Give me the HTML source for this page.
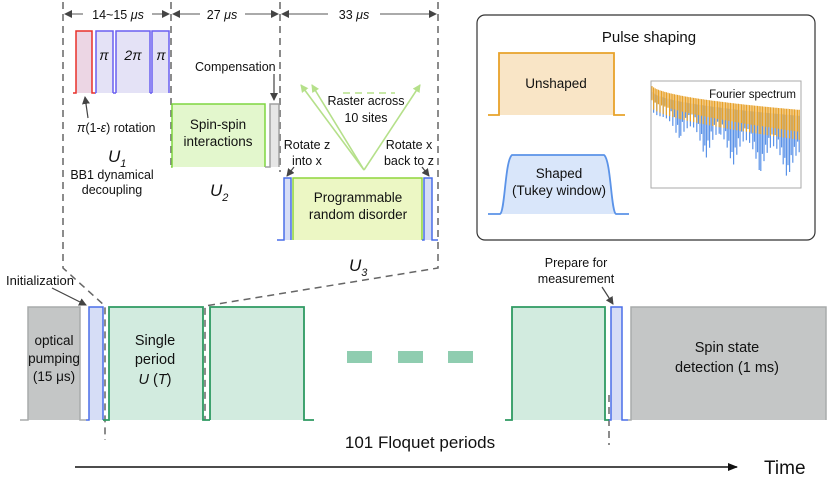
<!DOCTYPE html>
<html><head><meta charset="utf-8"><style>
html,body{margin:0;padding:0;background:#fff}
svg{display:block}
text{font-family:"Liberation Sans",sans-serif;fill:#111}
</style></head><body>
<svg id="s" width="831" height="485" viewBox="0 0 831 485" xmlns="http://www.w3.org/2000/svg">
<defs>
<marker id="ah" markerWidth="8" markerHeight="8" refX="7" refY="4" orient="auto" markerUnits="userSpaceOnUse"><path d="M0,0 L8,4 L0,8 z" fill="#444"/></marker>
<marker id="ahb" markerWidth="10" markerHeight="10" refX="9" refY="5" orient="auto" markerUnits="userSpaceOnUse"><path d="M0,1 L10,5 L0,9 z" fill="#111"/></marker>
<marker id="ahg" markerWidth="8" markerHeight="8" refX="7" refY="4" orient="auto" markerUnits="userSpaceOnUse"><path d="M0,0 L8,4 L0,8 z" fill="#b5e08a"/></marker>
</defs>
<!-- dashed guides -->
<g stroke="#666" stroke-width="1.5" stroke-dasharray="7,5" fill="none">
<path d="M63,2 L63,268 L105,306 L105,440"/>
<path d="M171,2 L171,168"/>
<path d="M280,2 L280,172"/>
<path d="M438,2 L438,268 L205,306 L205,420"/>
<path d="M609,395 L609,445"/>
</g>
<!-- top duration arrows -->
<g stroke="#555" stroke-width="1" marker-end="url(#ah)">
<line x1="83" y1="14" x2="65" y2="14"/><line x1="152" y1="14" x2="169" y2="14"/>
<line x1="200" y1="14" x2="173" y2="14"/><line x1="245" y1="14" x2="278" y2="14"/>
<line x1="328" y1="14" x2="282" y2="14"/><line x1="380" y1="14" x2="436" y2="14"/>
</g>
<text x="118" y="19" font-size="12.5" text-anchor="middle">14~15 <tspan font-style="italic">μs</tspan></text>
<text x="222" y="19" font-size="12.5" text-anchor="middle">27 <tspan font-style="italic">μs</tspan></text>
<text x="354" y="19" font-size="12.5" text-anchor="middle">33 <tspan font-style="italic">μs</tspan></text>
<!-- U1 pulses -->
<path d="M73,93 L76,93 L76,31 L92,31 L92,93 L95,93" fill="#ecd6e4" stroke="#e8302a" stroke-width="1.5"/>
<g fill="#e4e2f6" stroke="#6a5ff0" stroke-width="1.5">
<path d="M96,93 L96,31 L113,31 L113,93"/>
<path d="M116,93 L116,31 L150,31 L150,93"/>
<path d="M152,93 L152,31 L169,31 L169,93"/>
</g>
<path d="M95,93 L96,93 M113,93 L116,93 M150,93 L152,93" stroke="#6a5ff0" stroke-width="1.5"/>
<text x="104" y="60" font-size="14" font-style="italic" text-anchor="middle">π</text>
<text x="133" y="60" font-size="14" font-style="italic" text-anchor="middle">2π</text>
<text x="161" y="60" font-size="14" font-style="italic" text-anchor="middle">π</text>
<line x1="88" y1="118" x2="85" y2="97" stroke="#444" stroke-width="1.2" marker-end="url(#ah)"/>
<text x="77" y="132" font-size="12.5"><tspan font-style="italic">π</tspan>(1-<tspan font-style="italic">ε</tspan>) rotation</text>
<text x="108" y="162" font-size="17" font-style="italic">U<tspan font-size="11" dy="5">1</tspan></text>
<text x="112" y="179" font-size="12.5" text-anchor="middle">BB1 dynamical</text>
<text x="112" y="194" font-size="12.5" text-anchor="middle">decoupling</text>
<!-- U2 -->
<path d="M171,167 L172,167 L172,104 L265,104 L265,167" fill="#e3f7cd" stroke="#7fd640" stroke-width="1.5"/>
<path d="M265,167 L270,167 L270,104 L279,104 L279,167" fill="#e6e6e6" stroke="#a0a0a0" stroke-width="1.5"/>
<text x="218" y="129" font-size="13.5" text-anchor="middle">Spin-spin</text>
<text x="218" y="146" font-size="13.5" text-anchor="middle">interactions</text>
<text x="195" y="71" font-size="12.5">Compensation</text>
<line x1="274" y1="74" x2="274" y2="100" stroke="#444" stroke-width="1.2" marker-end="url(#ah)"/>
<text x="210" y="196" font-size="17" font-style="italic">U<tspan font-size="11" dy="5">2</tspan></text>
<!-- U3 -->
<path d="M277,240 L284,240 L284,178 L291,178 L291,240" fill="#d6ddf6" stroke="#4a6fe8" stroke-width="1.5"/>
<path d="M293,240 L293,178 L422,178 L422,240" fill="#ecf7c4" stroke="#8fd63c" stroke-width="1.5"/>
<path d="M422,240 L424,240 L424,178 L432,178 L432,240 L438,240" fill="#d6ddf6" stroke="#4a6fe8" stroke-width="1.5"/>
<text x="358" y="202" font-size="13.5" text-anchor="middle">Programmable</text>
<text x="358" y="219" font-size="13.5" text-anchor="middle">random disorder</text>
<g stroke="#b5e08a" stroke-width="1.6" marker-end="url(#ahg)">
<line x1="364" y1="170" x2="301" y2="85"/><line x1="364" y1="170" x2="312" y2="85"/><line x1="364" y1="170" x2="420" y2="85"/>
</g>
<line x1="343" y1="93" x2="395" y2="93" stroke="#b5e08a" stroke-width="1.6" stroke-dasharray="7,5"/>
<text x="366" y="105" font-size="12.5" text-anchor="middle">Raster across</text>
<text x="366" y="122" font-size="12.5" text-anchor="middle">10 sites</text>
<text x="307" y="149" font-size="12.5" text-anchor="middle">Rotate z</text>
<text x="307" y="165" font-size="12.5" text-anchor="middle">into x</text>
<text x="409" y="149" font-size="12.5" text-anchor="middle">Rotate x</text>
<text x="409" y="165" font-size="12.5" text-anchor="middle">back to z</text>
<line x1="294" y1="167" x2="287" y2="176" stroke="#444" stroke-width="1.2" marker-end="url(#ah)"/>
<line x1="422" y1="167" x2="429" y2="176" stroke="#444" stroke-width="1.2" marker-end="url(#ah)"/>
<text x="349" y="271" font-size="17" font-style="italic">U<tspan font-size="11" dy="5">3</tspan></text>
<!-- Pulse shaping box -->
<rect x="477" y="15" width="338" height="225" rx="8" fill="#fff" stroke="#333" stroke-width="1.2"/>
<text x="649" y="42" font-size="15" text-anchor="middle">Pulse shaping</text>
<path d="M488,115 L499,115 L499,53 L614,53 L614,115 L625,115" fill="#f9e5c6" stroke="#e8a22a" stroke-width="1.8"/>
<text x="556" y="88" font-size="13.5" text-anchor="middle">Unshaped</text>
<path d="M488,214 L500,214 C505,212 505,160 512,155 L604,155 C611,160 611,212 616,214 L629,214" fill="#d9e6fa" stroke="#5b93e8" stroke-width="1.8"/>
<text x="559" y="178" font-size="13.5" text-anchor="middle">Shaped</text>
<text x="559" y="195" font-size="13.5" text-anchor="middle">(Tukey window)</text>
<rect x="651" y="81" width="150" height="107" fill="#fff" stroke="#aaa" stroke-width="1"/>
<g id="spec"></g>
<text x="796" y="98" font-size="11.5" text-anchor="end">Fourier spectrum</text>
<!-- bottom sequence -->
<path d="M20,420 L28,420 L28,307 L80,307 L80,420 L86,420" fill="#c4c6c6" stroke="#a8abab" stroke-width="1.5"/>
<path d="M86,420 L89,420 L89,307 L103,307 L103,420" fill="#d6ddf6" stroke="#4a6fe8" stroke-width="1.5"/>
<g fill="#d2ebdf" stroke="#2e9a62" stroke-width="1.8">
<path d="M103,420 L109,420 L109,307 L203,307 L203,420 L210,420"/>
<path d="M210,420 L210,307 L304,307 L304,420 L314,420"/>
<path d="M505,420 L512,420 L512,307 L605,307 L605,420 L609,420"/>
</g>
<path d="M609,420 L611,420 L611,307 L622,307 L622,420 L628,420" fill="#d6ddf6" stroke="#4a6fe8" stroke-width="1.5"/>
<path d="M628,420 L631,420 L631,307 L826,307 L826,420" fill="#c4c6c6" stroke="#a8abab" stroke-width="1.5"/>
<g fill="#8fcdb0"><rect x="347" y="351" width="25" height="12"/><rect x="398" y="351" width="25" height="12"/><rect x="448" y="351" width="25" height="12"/></g>
<text x="54" y="345" font-size="13.5" text-anchor="middle">optical</text>
<text x="54" y="363" font-size="13.5" text-anchor="middle">pumping</text>
<text x="54" y="381" font-size="13.5" text-anchor="middle">(15 μs)</text>
<text x="155" y="345" font-size="14.5" text-anchor="middle">Single</text>
<text x="155" y="364" font-size="14.5" text-anchor="middle">period</text>
<text x="155" y="384" font-size="14.5" text-anchor="middle"><tspan font-style="italic">U</tspan> (<tspan font-style="italic">T</tspan>)</text>
<text x="727" y="352" font-size="14.5" text-anchor="middle">Spin state</text>
<text x="727" y="372" font-size="14.5" text-anchor="middle">detection (1 ms)</text>
<text x="6" y="285" font-size="13">Initialization</text>
<line x1="52" y1="288" x2="86" y2="305" stroke="#444" stroke-width="1.2" marker-end="url(#ah)"/>
<text x="576" y="267" font-size="12.5" text-anchor="middle">Prepare for</text>
<text x="576" y="283" font-size="12.5" text-anchor="middle">measurement</text>
<line x1="602" y1="287" x2="613" y2="304" stroke="#444" stroke-width="1.2" marker-end="url(#ah)"/>
<text x="420" y="448" font-size="17" text-anchor="middle">101 Floquet periods</text>
<line x1="75" y1="467" x2="737" y2="467" stroke="#111" stroke-width="1.5" marker-end="url(#ahb)"/>
<text x="764" y="474" font-size="19">Time</text>
</svg>
<script>
(function(){
var g=document.getElementById('spec'),ns='http://www.w3.org/2000/svg';
function mk(d,c,w){var p=document.createElementNS(ns,'path');p.setAttribute('d',d);p.setAttribute('fill','none');p.setAttribute('stroke',c);p.setAttribute('stroke-width',w);g.appendChild(p);}
var db='',do_='';
for(var x=652;x<=800;x+=1.6){var t=(x-651)/150;
var top=84+26*Math.sqrt(t);
var lobe=Math.abs(Math.sin(t*Math.PI*5.5));
var bt=top+12+18*t+30*(1-lobe)*Math.min(1,t*3)+ (Math.round(x*0.6)%2==0?12:0);
db+='M'+x.toFixed(1)+','+(top+6).toFixed(1)+' L'+x.toFixed(1)+','+Math.min(186,bt).toFixed(1);
var ob=top+8+ (Math.round(x*0.6)%2==0?14:6)+8*t;
do_+='M'+x.toFixed(1)+','+top.toFixed(1)+' L'+x.toFixed(1)+','+ob.toFixed(1);}
mk(db,'#5b93e8','1.2');mk(do_,'#e8a22a','1.2');
})();
</script>
</body></html>
